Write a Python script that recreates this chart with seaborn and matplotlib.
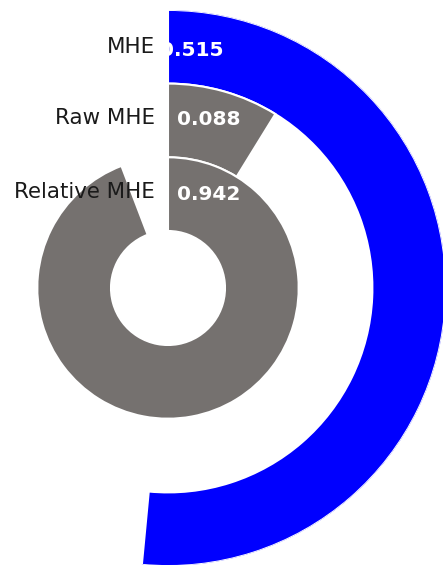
import numpy as np
import seaborn as sns
import matplotlib.pyplot as plt

# data (outer ring first)
labels = ['MHE', 'Raw MHE', 'Relative MHE']
values = [0.515, 0.088, 0.942]
value_text = ['0.515', '0.088', '0.942']
colors = ['#0000FF', '#75716F', '#75716F']

sns.set_theme(style="white")
plt.rcParams['font.family'] = ['DejaVu Sans']

W, H = 443, 565
fig = plt.figure(figsize=(W / 100, H / 100), dpi=100)

# polar axes laid out in pixels: centre (168, 288 from top), radius 278
cx, cy, R = 168, H - 288, 278
ax = fig.add_axes([(cx - R) / W, (cy - R) / H, 2 * R / W, 2 * R / H], projection='polar')
ax.set_theta_zero_location('N')
ax.set_theta_direction(-1)
ax.set_ylim(0, R)

hole, ring = 57, 73.7
label_dy = [0, 2, 1.5]
value_dy = [-2.5, 1, 0]
for i, (lab, v, c) in enumerate(zip(labels, values, colors)):
    k = len(labels) - 1 - i  # inner ring index
    bottom = hole + k * ring
    ax.bar(0, ring, width=2 * np.pi * v, bottom=bottom, align='edge',
           color=c, edgecolor='white', linewidth=1.5)
    mid = bottom + ring / 2
    ax.annotate(lab, xy=(0, mid), xytext=(-9.4, label_dy[i]), textcoords='offset points',
                ha='right', va='center', fontsize=15.4, color='#1a1a1a')
    dx = -5.5 if i == 0 else 6.5
    ax.annotate(value_text[i], xy=(0, mid), xytext=(dx, value_dy[i]), textcoords='offset points',
                ha='left', va='center', fontsize=14.5, fontweight='bold', color='white')

ax.grid(False)
ax.set_xticks([])
ax.set_yticks([])
ax.spines['polar'].set_visible(False)
ax.patch.set_alpha(0)

fig.savefig('out.png', dpi=100)
